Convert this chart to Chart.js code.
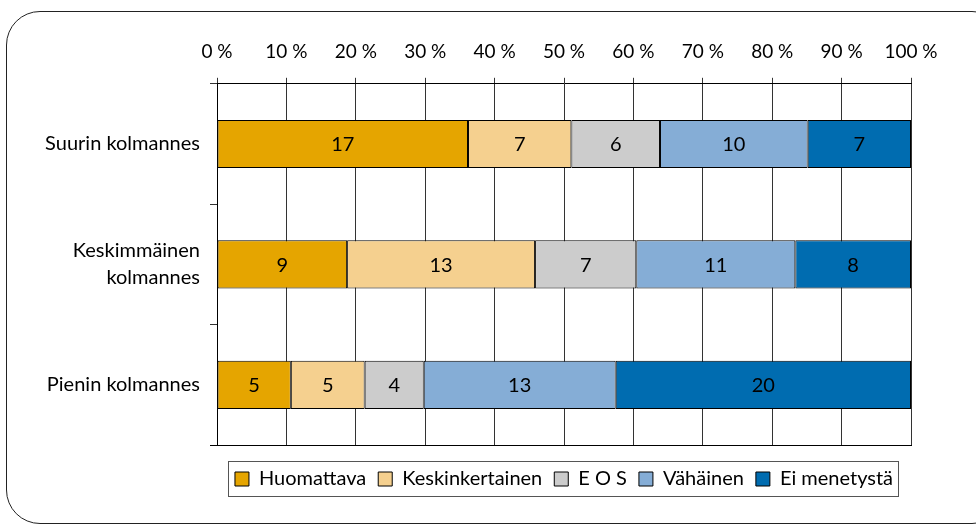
<!DOCTYPE html>
<html>
<head>
<meta charset="utf-8">
<script src="https://cdn.jsdelivr.net/npm/chart.js@4.4.0/dist/chart.umd.min.js"></script>
<style>
  html, body { margin: 0; padding: 0; background: #fff; }
  #wrap { position: relative; width: 976px; height: 528px; overflow: hidden; }
  #frame { position: absolute; left: 6px; top: 11px; width: 1000px; height: 513px;
           border: 1px solid #222; border-radius: 34px; box-sizing: border-box; }
  #chart { position: absolute; left: 0; top: 0; }
</style>
</head>
<body>
<div id="wrap">
  <div id="frame"></div>
  <canvas id="chart" width="976" height="528"></canvas>
</div>
<script>
// ryhmät
var categories = ['Suurin kolmannes', ['Keskimmäinen', 'kolmannes'], 'Pienin kolmannes'];
var series = ['Huomattava', 'Keskinkertainen', 'E O S', 'Vähäinen', 'Ei menetystä'];
var colors = ['#E5A500', '#F5D08F', '#CCCCCC', '#85ADD6', '#006CB0'];

// lukumäärät
var huomattava = [17, 9, 5];
var keskinkertainen = [7, 13, 5];
var eos = [6, 7, 4];
var vahainen = [10, 11, 13];
var eiMenetysta = [7, 8, 20];

var xTicks = [0, 10, 20, 30, 40, 50, 60, 70, 80, 90, 100];

var counts = [huomattava, keskinkertainen, eos, vahainen, eiMenetysta];
var totals = categories.map(function (c, i) {
  var s = 0;
  counts.forEach(function (arr) { s += arr[i]; });
  return s;
});

var FONT = 'Lato, "Open Sans", sans-serif';

var datasets = counts.map(function (arr, k) {
  return {
    label: series[k],
    data: arr.map(function (v, i) { return v / totals[i] * 100; }),
    counts: arr,
    backgroundColor: colors[k],
    borderColor: '#000',
    borderWidth: 1,
    borderSkipped: false,
    barPercentage: 0.4,
    categoryPercentage: 1
  };
});

// numerot palkkien sisään
var valueLabels = {
  id: 'valueLabels',
  afterDatasetsDraw: function (chart) {
    var ctx = chart.ctx;
    ctx.save();
    ctx.font = '20px ' + FONT;
    ctx.fillStyle = '#000';
    ctx.textAlign = 'center';
    ctx.textBaseline = 'middle';
    chart.data.datasets.forEach(function (ds, di) {
      chart.getDatasetMeta(di).data.forEach(function (bar, i) {
        var cx = (bar.x + bar.base) / 2;
        ctx.fillText(ds.counts[i], cx, bar.y + 1);
      });
    });
    ctx.restore();
  }
};

// kehys selitteen ympärille ja kuvaajan alareuna
var legendBox = {
  id: 'legendBox',
  afterDraw: function (chart) {
    var ctx = chart.ctx;
    var a = chart.chartArea;
    ctx.save();
    ctx.strokeStyle = '#000';
    ctx.lineWidth = 1;
    ctx.beginPath();
    var yb = Math.round(a.bottom) + 0.5;
    ctx.moveTo(a.left - 7, yb);
    ctx.lineTo(a.right + 1, yb);
    ctx.stroke();

    var boxes = chart.legend.legendHitBoxes;
    if (boxes && boxes.length) {
      var l = Infinity, r = -Infinity, t = Infinity, b = -Infinity;
      boxes.forEach(function (h) {
        l = Math.min(l, h.left); r = Math.max(r, h.left + h.width);
        t = Math.min(t, h.top); b = Math.max(b, h.top + h.height);
      });
      ctx.strokeStyle = '#555';
      ctx.strokeRect(Math.round(l - 7) + 0.5, Math.round(t - 8) + 0.5, Math.round(r - l + 12), Math.round(b - t + 15));
    }
    ctx.restore();
  }
};

new Chart(document.getElementById('chart'), {
  type: 'bar',
  data: { labels: categories, datasets: datasets },
  plugins: [valueLabels, legendBox],
  options: {
    indexAxis: 'y',
    responsive: false,
    animation: false,
    layout: { padding: { left: 20, right: 65, top: 25, bottom: 29 } },
    plugins: {
      tooltip: { enabled: false },
      legend: {
        position: 'bottom',
        fullSize: false,
        title: { display: true, text: '', color: '#000', padding: 1, font: { size: 10, lineHeight: 1 } },
        labels: {
          boxWidth: 14,
          boxHeight: 14,
          padding: 12,
          color: '#000',
          font: { family: FONT, size: 20 },
          generateLabels: function (chart) {
            return chart.data.datasets.map(function (ds, i) {
              return {
                text: ds.label,
                fillStyle: ds.backgroundColor,
                strokeStyle: '#000',
                fontColor: '#000',
                lineWidth: 1,
                datasetIndex: i
              };
            });
          }
        }
      }
    },
    scales: {
      x: {
        position: 'top',
        stacked: true,
        min: 0,
        max: 100,
        afterBuildTicks: function (scale) {
          scale.ticks = xTicks.map(function (v) { return { value: v }; });
        },
        ticks: {
          color: '#000',
          padding: 15,
          maxRotation: 0,
          font: { family: FONT, size: 19 },
          callback: function (v) { return v + ' %'; }
        },
        grid: { color: '#333', lineWidth: 1, tickLength: 6, tickColor: '#333' },
        border: { color: '#000', width: 1 }
      },
      y: {
        stacked: true,
        afterFit: function (scale) { scale.width = 197; },
        ticks: {
          color: '#000',
          padding: 10,
          font: { family: FONT, size: 20, lineHeight: 1.35 }
        },
        grid: {
          offset: true,
          tickLength: 7,
          tickColor: '#333',
          drawOnChartArea: false
        },
        border: { color: '#000', width: 1 }
      }
    }
  }
});
</script>
</body>
</html>
